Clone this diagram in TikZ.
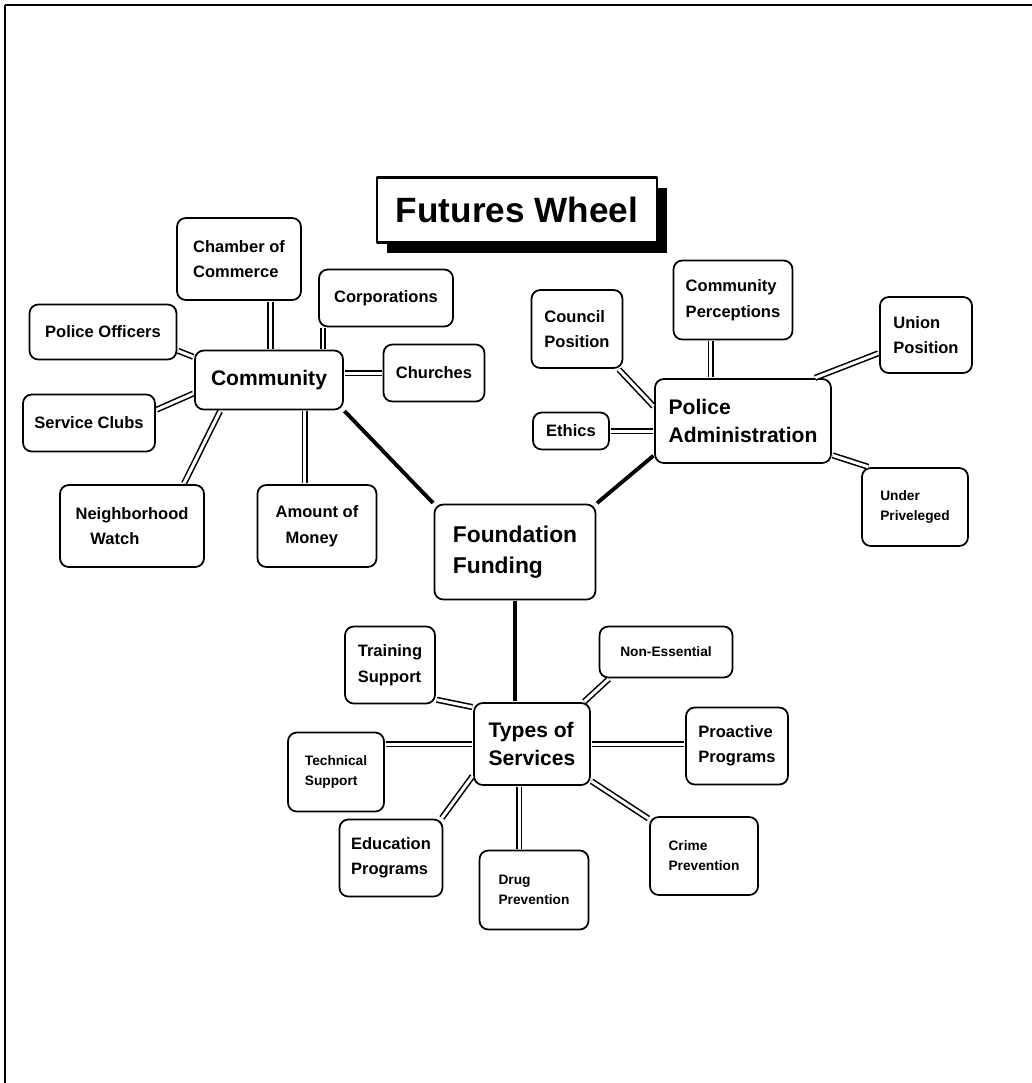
\documentclass[tikz,border=0pt]{standalone}
\usepackage{fontspec}
\setmainfont{Liberation Sans}
\usetikzlibrary{shadows}
\newcommand\U{0.02}

\begin{document}
\begin{tikzpicture}[x=\U cm,y=-\U cm,line join=round,
                    sz/.style 2 args={minimum width=#1*\U cm,minimum height=#2*\U cm},
                    link/.style={double,double distance=1.7pt,line width=0.9pt,
                                 shorten <=0.5pt,shorten >=0.5pt},
                    spoke/.style={line width=2.2pt,shorten <=0.5pt,shorten >=0.5pt}]

  \tikzstyle{box}=[draw,fill=white,rounded corners=5pt,line width=1pt,align=left,inner sep=2pt]
  \tikzstyle{hubbox}=[box,font=\bfseries\fontsize{12}{16}\selectfont]
  \tikzstyle{leafbox}=[box,font=\bfseries\fontsize{9.4}{14.5}\selectfont]
  \tikzstyle{smallbox}=[box,font=\bfseries\fontsize{7.8}{11.3}\selectfont]

  \useasboundingbox (0,0) rectangle (1032,1083);

  % frame
  \draw[line width=1.6pt] (1032,5) -- (5,5);
  \draw[line width=1.1pt] (5,5) -- (5,1083);

  \node[box,sharp corners,line width=1.2pt,sz={280}{65},align=center,
        font=\bfseries\fontsize{20}{24}\selectfont,
        general shadow={fill=black,shadow xshift=5.5pt,shadow yshift=-6pt}]
                            (TTL) at (517,210) {Futures Wheel};

  \node[hubbox,sz={161}{95},font=\bfseries\fontsize{13}{18}\selectfont]
                            (FND) at (515,552) {Foundation\\Funding};
  \node[hubbox,sz={148}{59}] (COM) at (269,380) {Community};
  \node[hubbox,sz={176}{84}] (PAD) at (743,421) {Police\\Administration};
  \node[hubbox,sz={116}{82}] (TOS) at (532,744) {Types of\\Services};

  % community
  \node[leafbox,sz={124}{82}] (CHC) at (239,259) {Chamber of\\Commerce};
  \node[leafbox,sz={134}{57}] (CRP) at (386,298) {Corporations};
  \node[leafbox,sz={147}{55}] (POF) at (103,332) {Police Officers};
  \node[leafbox,sz={101}{57}] (CHU) at (434,373) {Churches};
  \node[leafbox,sz={132}{57}] (SVC) at (89,423)  {Service Clubs};
  \node[leafbox,sz={144}{82}] (NWT) at (132,526) {Neighborhood\\\hspace*{0.9em}Watch};
  \node[leafbox,sz={119}{82}] (AMT) at (317,526) {Amount of\\\hspace*{0.6em}Money};

  % police administration
  \node[leafbox,sz={91}{78}]   (CNP) at (577,329) {Council\\Position};
  \node[leafbox,sz={119}{79}]  (CPR) at (733,300) {Community\\Perceptions};
  \node[leafbox,sz={92}{76}]   (UNP) at (926,335) {Union\\Position};
  \node[leafbox,sz={76}{37}]   (ETH) at (571,431) {Ethics};
  \node[smallbox,sz={106}{78}] (UPR) at (915,507) {Under\\Priveleged};

  % types of services
  \node[leafbox,sz={90}{77}]   (TRS) at (390,665) {Training\\Support};
  \node[smallbox,sz={133}{51}] (NES) at (666,652) {Non-Essential};
  \node[smallbox,sz={96}{79}]  (TES) at (336,772) {Technical\\Support};
  \node[leafbox,sz={102}{77}]  (PRP) at (737,746) {Proactive\\Programs};
  \node[leafbox,sz={103}{77}]  (EDP) at (391,858) {Education\\Programs};
  \node[smallbox,sz={109}{79}] (DRP) at (534,890) {Drug\\Prevention};
  \node[smallbox,sz={108}{78}] (CRM) at (704,856) {Crime\\Prevention};

  \path
  (CHC.-53)        edge[link]  (CHC.-53 |- COM.north)
  (CRP.-155)       edge[link]  (CRP.-155 |- COM.north)
  (POF.-14)        edge[link]  (COM.163)
  (CHU.west)       edge[link]  (CHU.west -| COM.east)
  (SVC.11)         edge[link]  (COM.190)
  (NWT.39)         edge[link]  (COM.-148)
  (AMT.106)        edge[link]  (AMT.106 |- COM.south)
  (COM.south east) edge[spoke] (FND.north west)

  (CNP.-44)        edge[link]  (PAD.171)
  (CPR.-119)       edge[link]  (CPR.-119 |- PAD.north)
  (UNP.201)        edge[link]  (PAD.31)
  (ETH.east)       edge[link]  (ETH.east -| PAD.west)
  (PAD.-21)        edge[link]  (UPR.139)
  (PAD.201)        edge[spoke] (FND.north east)

  (FND.south)      edge[spoke] (FND.south |- TOS.north)
  (TRS.-37)        edge[link]  (TOS.148)
  (NES.-155)       edge[link]  (TOS.39)
  (TOS.west)       edge[link]  (TOS.west -| TES.east)
  (TOS.east)       edge[link]  (TOS.east -| PRP.west)
  (EDP.38)         edge[link]  (TOS.208)
  (DRP.110)        edge[link]  (DRP.110 |- TOS.south)
  (TOS.-32)        edge[link]  (CRM.146)
  ;
\end{tikzpicture}
\end{document}
